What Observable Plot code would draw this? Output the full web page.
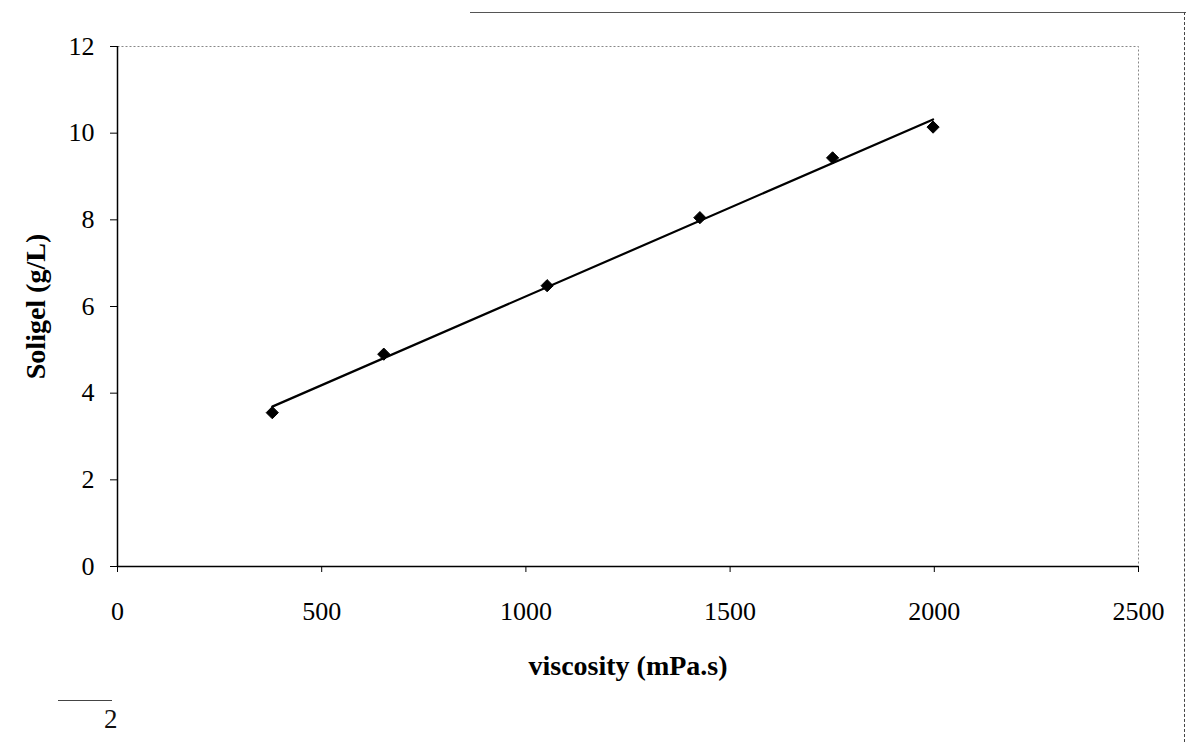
<!DOCTYPE html>
<html>
<head>
<meta charset="utf-8">
<script src="https://cdn.jsdelivr.net/npm/d3@7"></script>
<script src="https://cdn.jsdelivr.net/npm/@observablehq/plot@0.6"></script>
<style>
  html, body { margin: 0; padding: 0; background: #fff; }
  #wrap { position: relative; width: 1192px; height: 742px; overflow: hidden; font-family: "Liberation Serif", "Times New Roman", serif; }
  .deco { position: absolute; }
</style>
</head>
<body>
<div id="wrap">
  <div class="deco" style="left:470px; top:12px; width:716px; height:0; border-top:1.5px solid #555;"></div>
  <div class="deco" style="left:1184px; top:12px; width:0; height:730px; border-left:1.5px dashed #444;"></div>
  <div class="deco" style="left:58px; top:700px; width:54px; height:0; border-top:1.5px solid #444;"></div>
  <div class="deco" style="left:104px; top:704px; font-size:27px; color:#111;">2</div>
</div>
<script>
// Data
const viscosity = [379, 652, 1052, 1426, 1751, 1997];
const soligel   = [3.55, 4.90, 6.48, 8.05, 9.43, 10.14];
const xTicks = [0, 500, 1000, 1500, 2000, 2500];
const yTicks = [0, 2, 4, 6, 8, 10, 12];

const data = viscosity.map((v, i) => ({viscosity: v, soligel: soligel[i]}));

const chart = Plot.plot({
  width: 1192,
  height: 742,
  marginLeft: 117,
  marginRight: 54,
  marginTop: 46,
  marginBottom: 176,
  style: {fontFamily: "'Liberation Serif', 'Times New Roman', serif", fontSize: "26px", color: "#000", background: "transparent"},
  x: {domain: [0, 2500]},
  y: {domain: [0, 12]},
  marks: [
    Plot.frame({stroke: "#888", strokeDasharray: "2,2"}),
    Plot.axisX({ticks: xTicks, tickFormat: d3.format("d"), tickSize: 6, tickPadding: 29, label: "viscosity (mPa.s)", labelAnchor: "center", labelArrow: "none", labelOffset: 108, fontSize: 26}),
    Plot.axisY({ticks: yTicks, tickFormat: d3.format("d"), tickSize: 7, tickPadding: 16, label: "Soligel (g/L)", labelAnchor: "center", labelArrow: "none", labelOffset: 92, fontSize: 26}),
    Plot.ruleX([0], {stroke: "#000", strokeWidth: 1.5}),
    Plot.ruleY([0], {stroke: "#000", strokeWidth: 1.5}),
    Plot.linearRegressionY(data, {x: "viscosity", y: "soligel", ci: 0, stroke: "#000", strokeWidth: 2.2}),
    Plot.dot(data, {x: "viscosity", y: "soligel", symbol: "diamond2", r: 5.5, fill: "#000", stroke: "#000", strokeWidth: 1})
  ]
});
// bold, slightly larger axis titles
chart.querySelectorAll("[aria-label='x-axis label'] text, [aria-label='y-axis label'] text").forEach(t => {
  t.setAttribute("font-weight", "bold");
  t.setAttribute("font-size", "28");
});
chart.style.position = "absolute";
chart.style.left = "0px";
chart.style.top = "0px";
document.getElementById("wrap").prepend(chart);
</script>
</body>
</html>
